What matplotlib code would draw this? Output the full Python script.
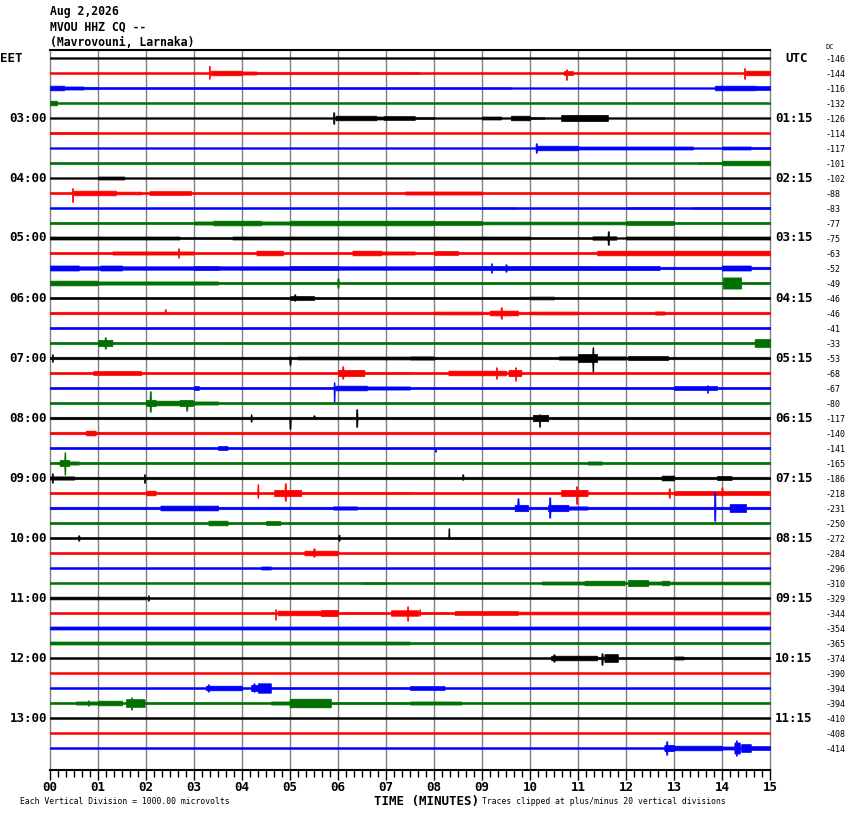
import numpy as np
import matplotlib
matplotlib.use('Agg')
import matplotlib.pyplot as plt
from matplotlib.ticker import MultipleLocator

# ---------------- data ----------------
title_lines = ["Aug 2,2026", "MVOU HHZ CQ --", "(Mavrovouni, Larnaka)"]
eet_labels = ["03:00", "04:00", "05:00", "06:00", "07:00", "08:00",
              "09:00", "10:00", "11:00", "12:00", "13:00"]
utc_labels = ["01:15", "02:15", "03:15", "04:15", "05:15", "06:15",
              "07:15", "08:15", "09:15", "10:15", "11:15"]
minute_labels = ["00", "01", "02", "03", "04", "05", "06", "07",
                 "08", "09", "10", "11", "12", "13", "14", "15"]
dc_offsets = [-146, -144, -116, -132, -126, -114, -117, -101, -102, -88,
              -83, -77, -75, -63, -52, -49, -46, -46, -41, -33, -53, -68,
              -67, -80, -117, -140, -141, -165, -186, -218, -231, -250,
              -272, -284, -296, -310, -329, -344, -354, -365, -374, -390,
              -394, -394, -410, -408, -414]

# background amplitude of each trace (half width, in 1/15 of a division)
base_amp = [1.0, 1.1, 1.2, 1.1, 1.0, 1.1, 1.0, 1.1, 1.0, 1.2, 1.1, 1.3,
            1.8, 1.3, 2.0, 1.4, 1.3, 1.5, 1.3, 1.3, 1.5, 1.3, 1.3, 1.3,
            1.5, 1.5, 1.3, 1.3, 1.5, 1.3, 1.5, 1.3, 1.2, 1.2, 1.1, 1.1,
            1.1, 1.2, 1.8, 1.8, 1.1, 1.1, 1.1, 1.2, 1.1, 1.1, 1.1]

# envelope segments per trace: (start minute, end minute, amplitude)
events = [
    [],
    [(3.35, 4.0, 3), (4.0, 4.3, 2), (4.3, 7.5, 1.6), (7.4, 7.7, 1.5), (10.7, 10.9, 2.5), (14.5, 15, 3)],
    [(0, 0.3, 3), (0.3, 0.7, 2), (0.7, 1.0, 1.6), (9.6, 13.85, 1.0), (13.85, 14.7, 3), (14.7, 15, 2.5)],
    [(0, 0.15, 3)],
    [(5.95, 6.8, 3), (6.8, 6.95, 2), (6.95, 7.6, 2.5), (7.6, 8.0, 1.5), (9.0, 9.4, 2), (9.6, 10.0, 3),
     (10.0, 10.3, 1.5), (10.65, 11.62, 4)],
    [(0, 1, 1.5)],
    [(10.15, 11.0, 3), (11.0, 11.3, 2), (11.3, 13.4, 2), (14.0, 14.6, 2), (14.6, 15, 1.5)],
    [(0, 5, 1.3), (13.5, 14, 1.5), (14, 15, 3)],
    [(1.0, 1.55, 2)],
    [(0.5, 1.37, 3), (1.37, 1.9, 1.8), (2.07, 2.94, 2.5), (7.4, 9.0, 2)],
    [(9.0, 9.7, 1.3), (12, 13, 1.5), (13.4, 15, 1.5)],
    [(3.0, 3.4, 2), (3.4, 4.4, 3), (4.4, 5.0, 2), (5.0, 8.0, 3), (8.0, 9.0, 2.5), (9.0, 12, 1.8), (12, 13, 2.5)],
    [(2.7, 3.8, 1.3), (10, 11.3, 1.2), (11.3, 11.8, 2), (11.8, 12, 1)],
    [(1.3, 3, 2), (4.3, 4.85, 3), (6.3, 6.9, 3), (6.9, 7.6, 2), (8.0, 8.5, 2.5), (11.4, 15, 3)],
    [(0, 0.6, 3), (1.05, 1.5, 3), (3, 3.5, 2.5), (5, 6, 2.5), (8, 12.7, 2.5), (12.7, 14, 1.5),
     (14, 14.6, 3), (14.6, 15, 1.5)],
    [(0, 1, 3), (1, 3.5, 2), (14.02, 14.4, 7)],
    [(5.0, 5.5, 2.5), (10, 10.5, 1.8)],
    [(8, 9.0, 1.8), (9.16, 9.75, 3), (10, 11, 1.8), (12.6, 12.8, 2)],
    [],
    [(1.0, 1.3, 4), (3.7, 4.0, 1.5), (14.68, 15, 5)],
    [(5.15, 7.5, 1.8), (7.5, 8.0, 2), (10.6, 11.0, 2), (11.0, 11.4, 5), (11.4, 12, 2), (12.04, 12.88, 2.5)],
    [(0.9, 1.9, 2.5), (6.0, 6.55, 4), (6.55, 7.5, 1.5), (8.3, 9.5, 3), (9.55, 9.82, 4)],
    [(3.0, 3.1, 2.5), (5.95, 6.6, 3), (6.6, 7.5, 2), (13.0, 13.9, 2.5)],
    [(2.0, 2.2, 4), (2.2, 3.0, 3), (2.7, 2.97, 4), (3.0, 3.5, 2)],
    [(10.06, 10.38, 4)],
    [(0.75, 0.95, 3)],
    [(3.5, 3.7, 2.5)],
    [(0.2, 0.4, 4), (0.4, 0.6, 2), (11.2, 11.5, 2)],
    [(0, 0.5, 2), (12.74, 13.0, 3), (13.9, 14.2, 2.5)],
    [(2.0, 2.2, 3), (4.67, 5.23, 4), (5.23, 7.5, 1.5), (10.65, 11.2, 4), (13.0, 15, 2.5)],
    [(2.3, 3.5, 3), (5.9, 6.4, 2), (9.68, 9.96, 4), (10.38, 10.8, 4), (10.8, 11.2, 2), (14.16, 14.5, 5)],
    [(3.3, 3.7, 3), (4.5, 4.8, 2.5)],
    [(8.3, 9, 1.5)],
    [(5.3, 6.0, 3)],
    [(4.4, 4.6, 2)],
    [(6.5, 7, 1.5), (10.24, 11.14, 2), (11.14, 11.97, 3), (12.04, 12.46, 4), (12.46, 12.74, 2),
     (12.74, 12.9, 3), (12.9, 15, 1.8)],
    [(0, 2.0, 1.8)],
    [(4.74, 5.65, 3), (5.65, 6.0, 4), (6, 7.0, 1.5), (7.1, 7.67, 3.5), (7.7, 8.3, 1.5), (8.43, 9.75, 2.5),
     (9.75, 15, 1.8)],
    [],
    [(7.5, 15, 1.3)],
    [(10.44, 11.0, 3), (11.0, 11.4, 3), (11.4, 11.55, 1.5), (11.55, 11.83, 5), (11.83, 15, 1.5), (13.0, 13.2, 2)],
    [],
    [(3.25, 4.0, 3), (4.19, 4.33, 4), (4.33, 4.6, 6), (4.6, 7.5, 1.3), (7.5, 8.22, 2.5)],
    [(0.54, 1.0, 2), (1.0, 1.5, 3), (1.58, 1.97, 5), (2.0, 4.0, 1.3), (4.6, 4.99, 2), (4.99, 5.85, 5.5),
     (5.85, 7.5, 1.5), (7.5, 8.57, 2)],
    [],
    [],
    [(12.8, 13.0, 4), (13.0, 14.0, 3), (14.0, 14.3, 2), (14.26, 14.37, 7), (14.4, 14.6, 5), (14.6, 15, 2.5)],
]

# single spikes per trace: (minute, amplitude up, amplitude down)
spikes = [
    [], [(3.32, 7.5, 6), (10.76, 4, 7), (14.47, 5, 6)], [], [],
    [(5.91, 6, 6)], [], [(10.13, 5, 5)], [], [], [(0.47, 5, 9)], [], [],
    [(11.63, 7, 7)], [(2.68, 5, 5)], [(9.2, 5, 5), (9.5, 4, 4)], [(6.0, 5, 5)],
    [(5.1, 4, 3)], [(2.4, 4, 1), (9.4, 6, 6)], [], [(1.15, 6, 6)],
    [(0.05, 4, 4), (5.0, 2, 7), (11.31, 11, 14)], [(6.1, 7, 6), (9.3, 6, 6), (9.7, 6, 8)],
    [(5.92, 6, 14), (13.7, 3, 5)], [(2.09, 12, 9), (2.85, 3, 8)],
    [(4.19, 4, 4), (5.0, 1, 11), (5.5, 3, 1), (6.39, 9, 9), (10.2, 4, 9)], [], [(8.03, 1, 4)],
    [(0.31, 11, 12)], [(0.05, 5, 5), (1.97, 4, 5), (8.6, 4, 2)],
    [(4.33, 9, 5), (4.9, 10, 8), (10.97, 7, 11), (12.9, 5, 5), (14.0, 6, 3)],
    [(9.75, 10, 3), (10.41, 11, 10), (13.85, 16, 13)], [],
    [(0.6, 3, 3), (6.02, 3.5, 3), (8.31, 10, 1)], [(5.5, 5, 4)], [], [], [(2.05, 3, 3)],
    [(4.7, 4, 7), (7.45, 7, 8), (7.7, 4, 3)], [], [], [(10.5, 4, 4), (11.5, 5, 7)], [],
    [(3.3, 4, 4), (4.25, 5, 4)], [(0.8, 3, 3), (1.7, 6, 7)], [], [],
    [(12.85, 7, 7), (14.3, 8, 8)],
]

trace_colors = ["black", "#ff0000", "#0000ff", "#007000"]

# ---------------- figure ----------------
W, H = 850, 814
fig = plt.figure(figsize=(W / 100, H / 100), dpi=100)
ax = fig.add_axes([50 / W, 1 - 770 / H, 720 / W, 720 / H])

n = len(dc_offsets)
spacing = 15.0
ink = 0.8  # visual density of a burst envelope drawn as a solid band
t = np.linspace(0, 15, 2881)
for i in range(n):
    b = base_amp[i]
    up = np.full_like(t, b)
    dn = up.copy()
    for (t0, t1, a) in events[i]:
        m = (t >= t0) & (t <= t1)
        up[m] = b + ink * (a - b) if a > b else a
        dn[m] = up[m]
    for (tc, u, d) in spikes[i]:
        m = np.abs(t - tc) <= 0.012
        up[m] = np.maximum(up[m], u)
        dn[m] = np.maximum(dn[m], d)
    y0 = 8 + spacing * i
    c = trace_colors[i % 4]
    ax.fill_between(t, y0 - up + 0.3, y0 + dn - 0.3, color=c, lw=0.5,
                    edgecolor=c, zorder=3)

ax.set_xlim(0, 15)
ax.set_ylim(720, 0)
for m in range(1, 15):
    ax.axvline(m, color="#808080", lw=1.0, zorder=1)

ax.xaxis.set_minor_locator(MultipleLocator(1 / 6))
ax.set_xticks(range(16))
ax.set_xticklabels(minute_labels, fontfamily="DejaVu Sans Mono",
                   fontweight="bold", fontsize=9)
ax.tick_params(axis="x", which="major", length=7.5, width=1, direction="out",
               pad=0.5, color="black")
ax.tick_params(axis="x", which="minor", length=5, width=1, direction="out",
               color="black")
ax.set_yticks([])
ax.spines["top"].set_color("black")
ax.spines["top"].set_linewidth(1.5)
ax.spines["bottom"].set_color("black")
ax.spines["bottom"].set_linewidth(1.5)
for s in ("left", "right"):
    ax.spines[s].set_color("#808080")
    ax.spines[s].set_linewidth(1.0)


def ftext(x, y, s, **kw):
    fig.text(x / W, 1 - y / H, s, **kw)


mono = "DejaVu Sans Mono"
for k, line in enumerate(title_lines):
    ftext(50, 12 + 15 * k, line, family=mono, fontweight="bold", fontsize=8.3,
          va="center", ha="left")

ftext(0, 58, "EET", family=mono, fontweight="bold", fontsize=9, va="center", ha="left")
ftext(785, 58, "UTC", family=mono, fontweight="bold", fontsize=9, va="center", ha="left")
for k in range(len(eet_labels)):
    ypix = 50 + 8 + spacing * 4 * (k + 1)
    ftext(47, ypix, eet_labels[k], family=mono, fontweight="bold", fontsize=9,
          va="center", ha="right")
    ftext(775, ypix, utc_labels[k], family=mono, fontweight="bold", fontsize=9,
          va="center", ha="left")

ftext(826, 47, "DC", family=mono, fontsize=5, va="center", ha="left")
for i, v in enumerate(dc_offsets):
    ftext(826, 50 + 8 + spacing * i + 1.5, str(v), family=mono, fontsize=6,
          va="center", ha="left")

ftext(426, 801, "TIME (MINUTES)", family=mono, fontweight="bold", fontsize=9,
      va="center", ha="center")
ftext(20, 801, "Each Vertical Division = 1000.00 microvolts", family=mono,
      fontsize=5.9, va="center", ha="left")
ftext(482, 801, "Traces clipped at plus/minus 20 vertical divisions", family=mono,
      fontsize=5.8, va="center", ha="left")

fig.savefig("out.png", dpi=100, facecolor="white")
